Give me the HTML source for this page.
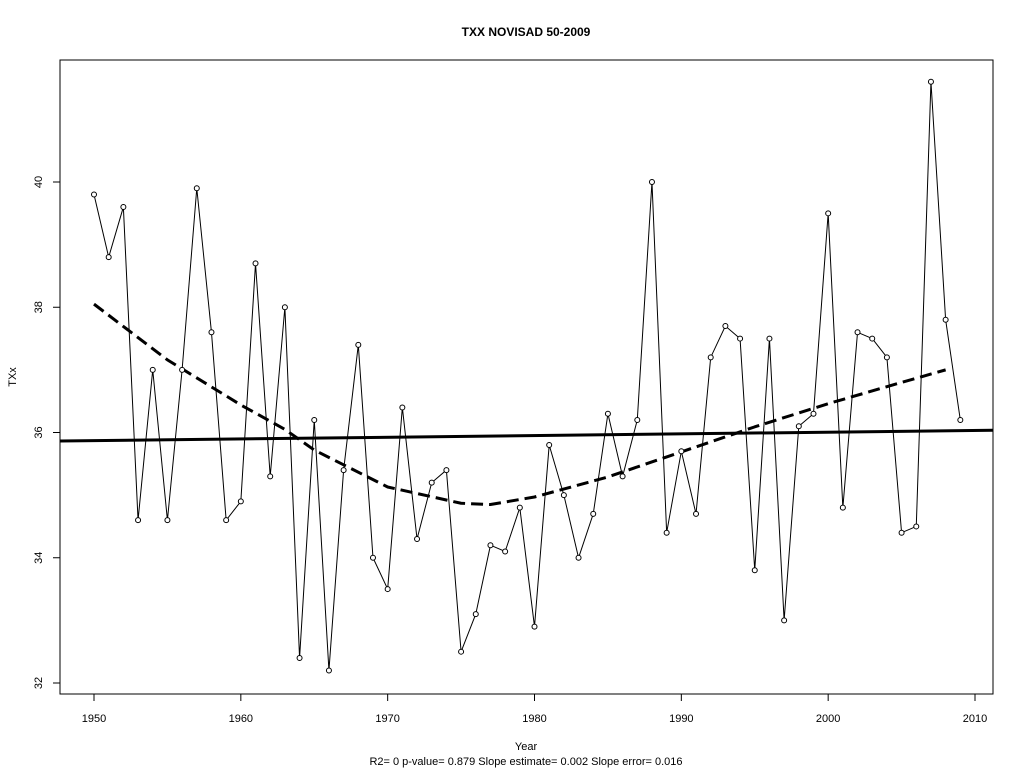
<!DOCTYPE html>
<html><head><meta charset="utf-8"><style>
html,body{margin:0;padding:0;background:#fff;}
svg{display:block;font-family:"Liberation Sans",Arial,sans-serif;}
</style></head><body>
<svg id="chart" width="1024" height="768" viewBox="0 0 1024 768">
<rect x="0" y="0" width="1024" height="768" fill="#fff"/>
<text x="526" y="36" text-anchor="middle" font-size="12" font-weight="bold">TXX    NOVISAD 50-2009</text>
<rect x="60" y="60" width="933" height="634" fill="none" stroke="#000" stroke-width="1"/>
<g id="xaxis"></g>
<g id="yaxis"></g>
<text x="526" y="750" text-anchor="middle" font-size="11">Year</text>
<text x="526" y="765" text-anchor="middle" font-size="11">R2= 0  p-value= 0.879  Slope estimate= 0.002  Slope error= 0.016</text>
<text transform="translate(16,377) rotate(-90)" text-anchor="middle" font-size="11">TXx</text>
<g id="marks"></g>
</svg>
<script>
const years = [1950,1951,1952,1953,1954,1955,1956,1957,1958,1959,1960,1961,1962,1963,1964,1965,1966,1967,1968,1969,1970,1971,1972,1973,1974,1975,1976,1977,1978,1979,1980,1981,1982,1983,1984,1985,1986,1987,1988,1989,1990,1991,1992,1993,1994,1995,1996,1997,1998,1999,2000,2001,2002,2003,2004,2005,2006,2007,2008,2009];
const txx = [39.8,38.8,39.6,34.6,37.0,34.6,37.0,39.9,37.6,34.6,34.9,38.7,35.3,38.0,32.4,36.2,32.2,35.4,37.4,34.0,33.5,36.4,34.3,35.2,35.4,32.5,33.1,34.2,34.1,34.8,32.9,35.8,35.0,34.0,34.7,36.3,35.3,36.2,40.0,34.4,35.7,34.7,37.2,37.7,37.5,33.8,37.5,33.0,36.1,36.3,39.5,34.8,37.6,37.5,37.2,34.4,34.5,41.6,37.8,36.2];
const smoothYears = [1950,1955,1960,1963,1965,1970,1975,1977,1980,1985,1990,1995,2000,2005,2008];
const smoothVals = [38.05,37.16,36.44,36.05,35.72,35.13,34.87,34.85,34.97,35.29,35.69,36.09,36.46,36.8,37.0];
const trendIntercept = 35.87; // value at 1950
const trendSlope = 0.0027;
const xTicks = [1950,1960,1970,1980,1990,2000,2010];
const yTicks = [32,34,36,38,40];

const X = y => 94 + (y-1950)*(881/60);
const Y = v => 683 - (v-32)*(501/8);
const NS = "http://www.w3.org/2000/svg";
function mk(tag, attrs, parent){const e=document.createElementNS(NS,tag);for(const k in attrs)e.setAttribute(k,attrs[k]);parent.appendChild(e);return e;}
const xa=document.getElementById('xaxis'), ya=document.getElementById('yaxis'), m=document.getElementById('marks');
mk('line',{x1:X(1950),x2:X(2010),y1:694,y2:694,stroke:'#000'},xa);
xTicks.forEach(t=>{
  const l=mk('line',{x1:X(t),x2:X(t),y1:694,y2:701,stroke:'#000'},xa);
  
  
  const tx=mk('text',{x:X(t),y:722,'text-anchor':'middle','font-size':11},xa);
  tx.textContent=t;
  
  
});
mk('line',{x1:60,x2:60,y1:Y(32),y2:Y(40),stroke:'#000'},ya);
yTicks.forEach(t=>{
  const l=mk('line',{x1:53,x2:60,y1:Y(t),y2:Y(t),stroke:'#000'},ya);
  
  
  const tx=mk('text',{transform:`translate(42,${Y(t)}) rotate(-90)`,'text-anchor':'middle','font-size':11},ya);
  tx.textContent=t;
  
  
});
// series line
const sl=mk('polyline',{points:years.map((y,i)=>X(y)+','+Y(txx[i])).join(' '),fill:'none',stroke:'#000','stroke-width':1},m);


// trend line
const y0=1950+(60-94)/(881/60), y1=1950+(993-94)/(881/60);
const tl=mk('line',{x1:60,x2:993,y1:Y(trendIntercept+trendSlope*(y0-1950)),y2:Y(trendIntercept+trendSlope*(y1-1950)),stroke:'#000','stroke-width':3},m);


// smooth dashed
const sm=mk('polyline',{points:smoothYears.map((y,i)=>X(y)+','+Y(smoothVals[i])).join(' '),fill:'none',stroke:'#000','stroke-width':3,'stroke-dasharray':'12 6','stroke-linejoin':'round'},m);


// points
years.forEach((y,i)=>{
  const c=mk('circle',{cx:X(y),cy:Y(txx[i]),r:2.5,fill:'#fff',stroke:'#000','stroke-width':1},m);
  
  
});
</script>
</body></html>
